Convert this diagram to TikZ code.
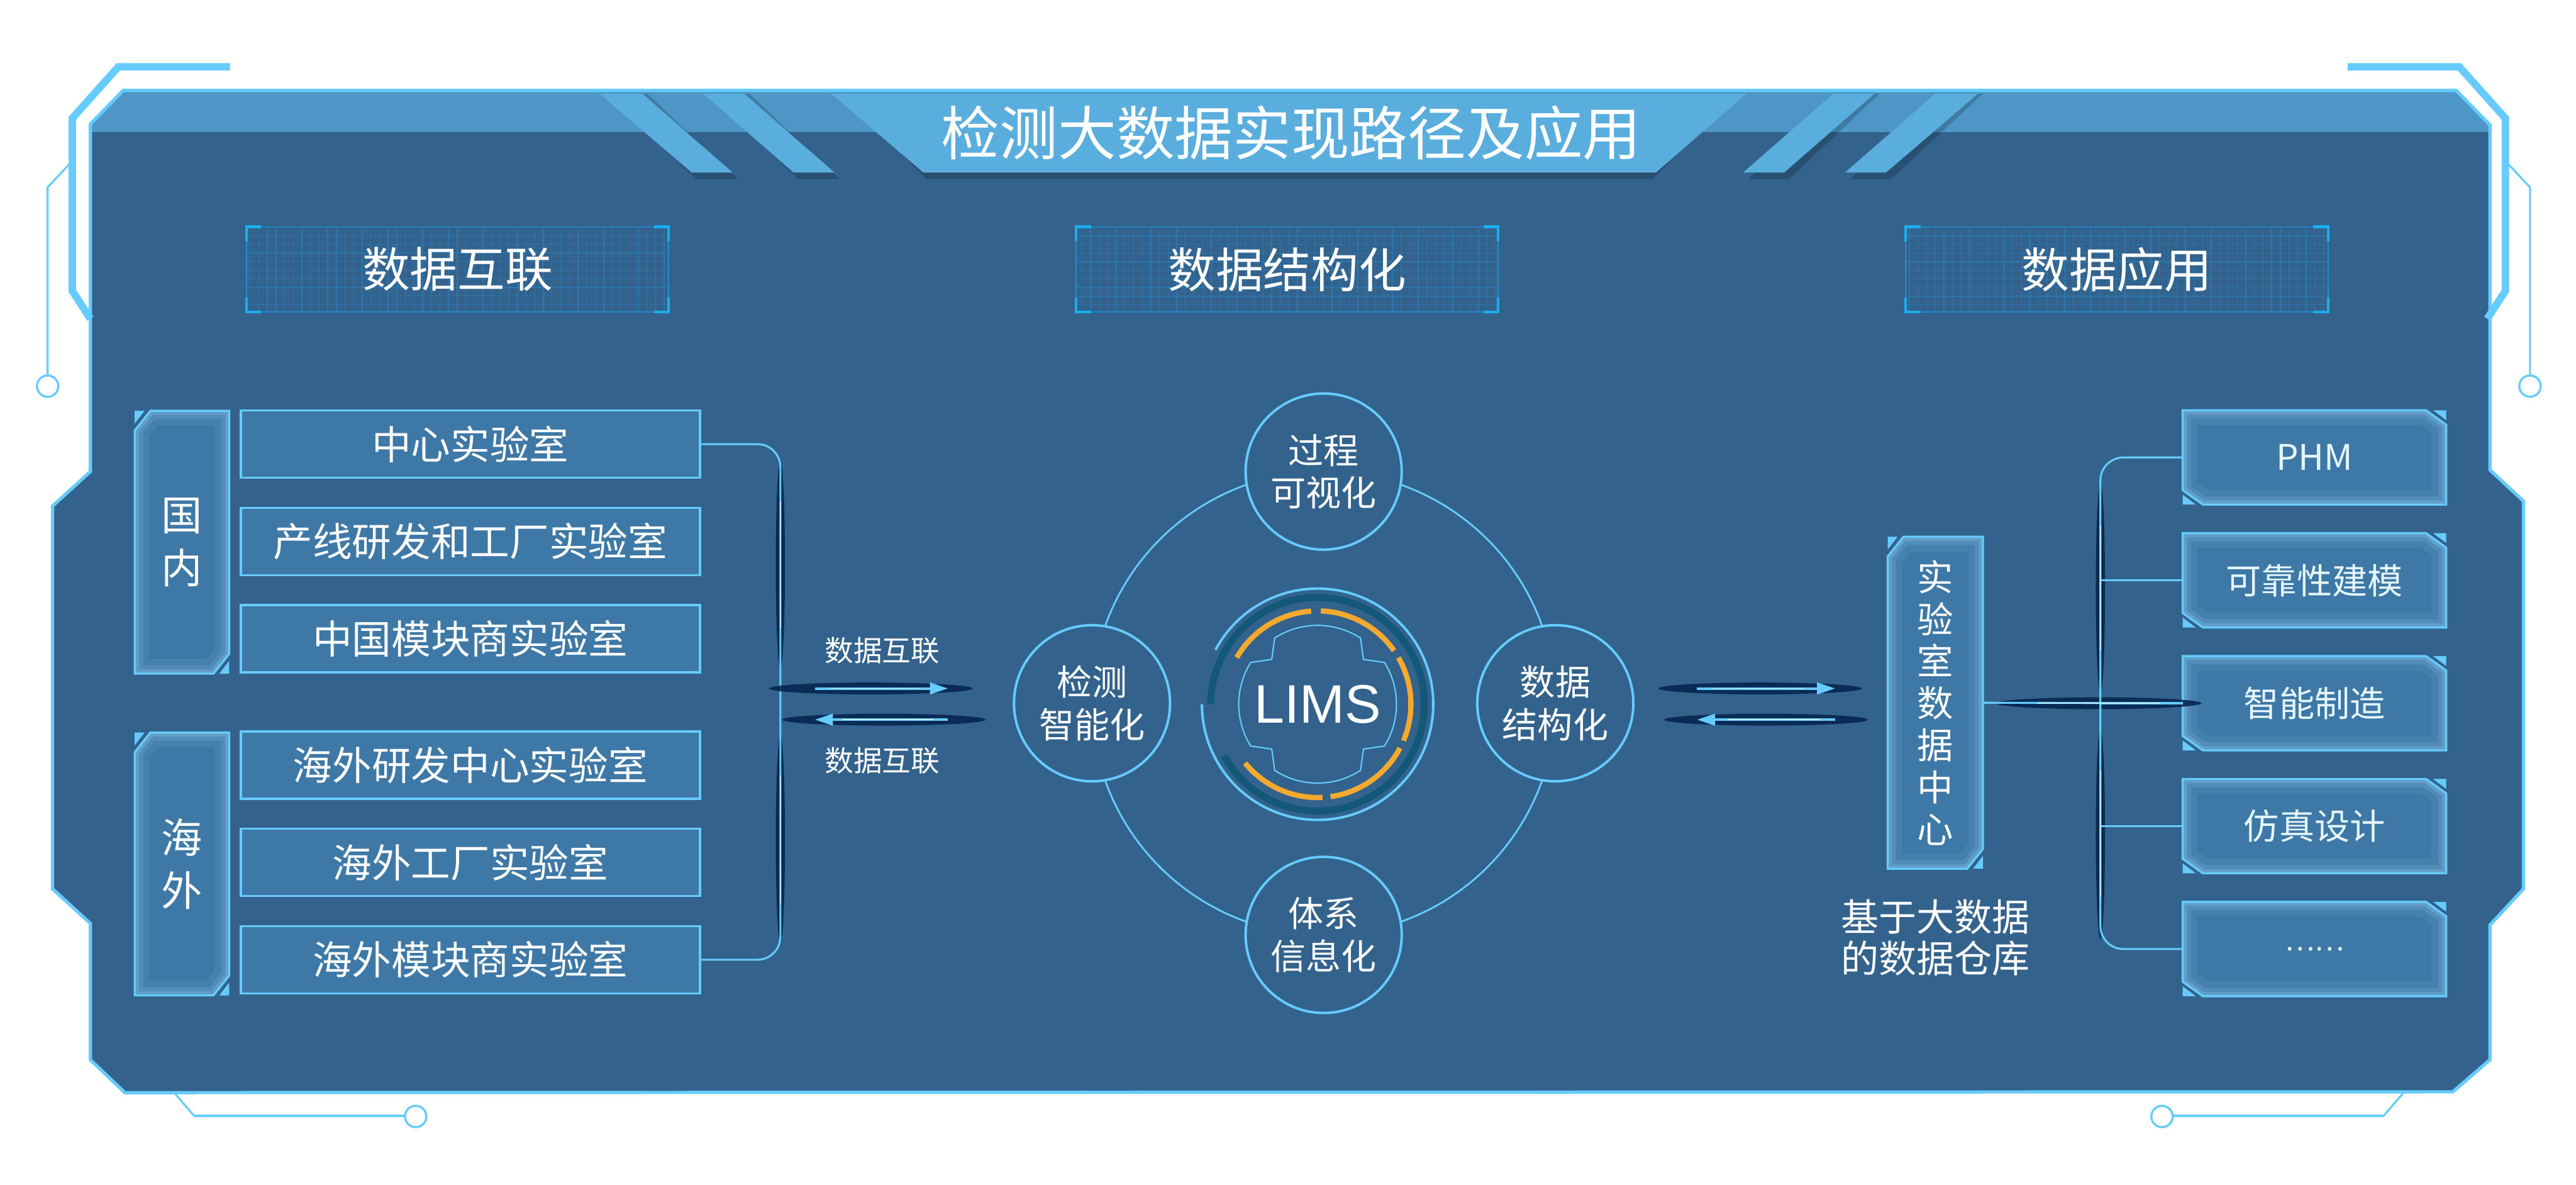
\documentclass[tikz,border=0pt]{standalone}
\usepackage{fontspec}
\newfontfamily\cjk{Noto Sans CJK SC}
\newfontfamily\limsfont{Liberation Sans}
\usepackage{tikz}
\usetikzlibrary{arrows.meta,positioning,calc}
\definecolor{panelBlue}{RGB}{51,98,141}
\definecolor{bandBlue}{RGB}{78,150,198}
\definecolor{ribbonBlue}{RGB}{90,174,222}
\definecolor{lineBlue}{RGB}{102,204,255}
\definecolor{boxBlue}{RGB}{61,120,167}
\definecolor{glowBlue}{RGB}{150,210,245}
\definecolor{navyDeep}{RGB}{6,38,78}
\definecolor{ringTeal}{RGB}{19,88,120}
\definecolor{limsOrange}{RGB}{245,170,46}
\definecolor{gridBlue}{RGB}{44,118,176}
\definecolor{hdrEdge}{RGB}{36,140,205}
\definecolor{hdrCorner}{RGB}{27,174,239}
\definecolor{paleText}{RGB}{230,246,255}
\pgfdeclarelayer{back}
\pgfsetlayers{back,main}
\tikzset{
  frameline/.style={draw=lineBlue,line width=4.5pt,line join=miter},
  framethin/.style={draw=lineBlue,line width=1.2pt},
  framebar/.style={draw=lineBlue,line width=1.6pt},
  knob/.style={draw=lineBlue,line width=1.3pt,fill=white},
  titletext/.style={text=white,font=\cjk\fontsize{35.5}{40}\selectfont},
  gridln/.style={draw=gridBlue,line width=0.5pt},
  hdrbox/.style={draw=hdrEdge,line width=0.7pt,fill=panelBlue,minimum width=257pt,minimum height=52pt,inner sep=0pt,outer sep=0pt,text=white,font=\cjk\fontsize{29}{34}\selectfont,
    path picture={\draw[gridln] (path picture bounding box.south west) grid[step=5.25pt] (path picture bounding box.north east);}},
  hdrcorner/.style={draw=hdrCorner,line width=1.6pt},
  sidetag/.style={minimum width=57.5pt,minimum height=160pt,inner sep=0pt,outer sep=0pt,align=center,text=white,font=\cjk\fontsize{25}{32}\selectfont},
  labbox/.style={draw=lineBlue,line width=1.3pt,fill=boxBlue,minimum width=279.4pt,minimum height=41pt,inner sep=0pt,outer sep=0pt,text=white,font=\cjk\fontsize{24}{28}\selectfont},
  appbox/.style={minimum width=160.4pt,minimum height=57.4pt,inner sep=0pt,outer sep=0pt,text=paleText,font=\cjk\fontsize{21.5}{26}\selectfont},
  edgeln/.style={draw=lineBlue,line width=1.3pt,line join=miter},
  stage/.style={circle,draw=lineBlue,line width=1.5pt,fill=panelBlue,minimum size=95pt,inner sep=0pt,align=center,text=white,font=\cjk\fontsize{21.5}{26}\selectfont},
  orbit/.style={draw=lineBlue,line width=1.1pt},
  limslbl/.style={text=white,font=\limsfont\fontsize{33}{38}\selectfont},
  link/.style={draw=lineBlue,line width=1.2pt},
  lens/.style={fill=navyDeep,opacity=0.9},
  lenscore/.style={draw=white,line width=0.7pt,opacity=0.55},
  flowarrow/.style={-{Triangle[length=11pt,width=7pt]},draw=lineBlue,line width=1.5pt},
  flowlbl/.style={text=white,font=\cjk\fontsize{17.5}{20}\selectfont},
  note/.style={align=center,text=white,font=\cjk\fontsize{23}{25.5}\selectfont}
}
% chamfered glow box, cut top-left and bottom-right
\newcommand\chamboxA[1]{%
  \def\pth{($(#1.north west)+(0,12)$) -- ($(#1.north west)+(9.6,0)$) -- (#1.north east) -- ($(#1.south east)+(0,-12)$) -- ($(#1.south east)+(-9.6,0)$) -- (#1.south west) -- cycle}%
  \begin{pgfonlayer}{back}
    \begin{scope}
      \clip \pth;
      \fill[boxBlue] \pth;
      \foreach \w/\o in {18/0.10,10/0.15,5/0.25}
        \draw[glowBlue,line width=\w pt,opacity=\o] \pth;
    \end{scope}
    \draw[edgeln] \pth;
    \fill[lineBlue] (#1.north west) -- ++(6,0) -- ++(-6,7.8) -- cycle;
    \fill[lineBlue] (#1.south east) -- ++(-6,0) -- ++(6,-7.8) -- cycle;
  \end{pgfonlayer}}
% chamfered glow box, cut top-right and bottom-left
\newcommand\chamboxB[1]{%
  \def\pth{(#1.north west) -- ($(#1.north east)+(-12.3,0)$) -- ($(#1.north east)+(0,8.8)$) -- (#1.south east) -- ($(#1.south west)+(12.3,0)$) -- ($(#1.south west)+(0,-8.8)$) -- cycle}%
  \begin{pgfonlayer}{back}
    \begin{scope}
      \clip \pth;
      \fill[boxBlue] \pth;
      \foreach \w/\o in {18/0.10,10/0.15,5/0.25}
        \draw[glowBlue,line width=\w pt,opacity=\o] \pth;
    \end{scope}
    \draw[edgeln] \pth;
    \fill[lineBlue] (#1.north east) -- ++(-8,0) -- ++(8,6) -- cycle;
    \fill[lineBlue] (#1.south west) -- ++(8,0) -- ++(-8,-6) -- cycle;
  \end{pgfonlayer}}
\newcommand\hdrcorners[1]{%
  \draw[hdrcorner] ($(#1.north west)+(0,9)$) -- (#1.north west) -- ++(9,0);
  \draw[hdrcorner] ($(#1.north east)+(0,9)$) -- (#1.north east) -- ++(-9,0);
  \draw[hdrcorner] ($(#1.south west)+(0,-9)$) -- (#1.south west) -- ++(9,0);
  \draw[hdrcorner] ($(#1.south east)+(0,-9)$) -- (#1.south east) -- ++(-9,0);}

\begin{document}
\begin{tikzpicture}[x=1pt,y=-1pt]
  \useasboundingbox (0,0) rectangle (1568,721);
  \def\framepath{(75,55) -- (1495,55) -- (1515.6,76) -- (1515.6,286) -- (1536,305) -- (1536,541) -- (1515.6,563) -- (1515.6,645) -- (1493,664.5) -- (76,665) -- (55,645) -- (55,562) -- (32,541) -- (32,308) -- (55,287) -- (55,75.5) -- cycle}
  \begin{pgfonlayer}{back}
    \fill[white] (0,0) rectangle (1568,721);
    \fill[panelBlue] \framepath;
    \begin{scope}
      \clip \framepath;
      \fill[bandBlue] (0,55) rectangle (1568,80.4);
    \end{scope}
    \draw[lineBlue,line width=2pt,line join=miter] \framepath;
  \end{pgfonlayer}

  % outer frame decoration
  \draw[frameline] (140,40.7) -- (72,40.7) -- (44,72) -- (44,177) -- (55,194);
  \draw[frameline] (1429,40.7) -- (1497,40.7) -- (1525,72) -- (1525,177) -- (1514,194);
  \draw[framethin] (44,98) -- (29,114) -- (29,228.5);
  \draw[framethin] (1525,98) -- (1540,114) -- (1540,228.5);
  \draw[knob] (29,235) circle[radius=6.5];
  \draw[knob] (1540,235) circle[radius=6.5];
  \draw[framethin] (106,665) -- (118,679);
  \draw[framebar] (118,679) -- (246.5,679);
  \draw[knob] (253,679.5) circle[radius=6.5];
  \draw[framethin] (1463,665) -- (1451,679);
  \draw[framebar] (1451,679) -- (1322.5,679);
  \draw[knob] (1316,679.5) circle[radius=6.5];

  % title ribbon
  \foreach \a/\b/\c/\d in {365/391/446/421,428/453/508/483,1116/1141/1086/1061,1178/1204/1148/1123}{
    \fill[black,opacity=0.18] (\a+3,57) -- (\b+3,57) -- (\c+3,109) -- (\d+3,109) -- cycle;
    \fill[ribbonBlue] (\a,57) -- (\b,57) -- (\c,105) -- (\d,105) -- cycle;}
  \fill[black,opacity=0.2] (512,57) -- (1057,57) -- (1006,109) -- (564,109) -- cycle;
  \fill[ribbonBlue] (506,57) -- (1063,57) -- (1008,105) -- (562,105) -- cycle;
  \node[titletext] (title) at (786,81) {检测大数据实现路径及应用};

  % section headers
  \node[hdrbox] (hdrA) at (278.5,164) {数据互联};
  \node[hdrbox,right=248pt of hdrA] (hdrB) {数据结构化};
  \node[hdrbox,right=248pt of hdrB] (hdrC) {数据应用};
  \foreach \n in {hdrA,hdrB,hdrC} {\hdrcorners{\n}}

  % left: laboratories
  \node[sidetag] (dom) at (110.75,330) {国\\内};
  \node[sidetag] (ovs) at (110.75,525.8) {海\\外};
  \chamboxA{dom}
  \chamboxA{ovs}
  \node[labbox] (lab1) at (286.3,270.3) {中心实验室};
  \node[labbox,below=18.2pt of lab1] (lab2) {产线研发和工厂实验室};
  \node[labbox,below=18.2pt of lab2] (lab3) {中国模块商实验室};
  \node[labbox,below=36pt of lab3] (lab4) {海外研发中心实验室};
  \node[labbox,below=18.2pt of lab4] (lab5) {海外工厂实验室};
  \node[labbox,below=18.2pt of lab5] (lab6) {海外模块商实验室};

  \coordinate (busL) at (475,428);
  \fill[lens] (475,343.5) ellipse[x radius=2.8,y radius=63];
  \fill[lens] (475,511) ellipse[x radius=2.8,y radius=63];
  \draw[link,rounded corners=14pt] (lab1.east) -| (busL) |- (lab6.east);
  \draw[lenscore] (475,305) -- (475,382);
  \draw[lenscore] (475,472) -- (475,550);

  % left arrows
  \fill[lens] (530,419) ellipse[x radius=62,y radius=3.6];
  \fill[lens] (538,438) ellipse[x radius=62,y radius=3.6];
  \coordinate (inA) at (496,419);
  \coordinate (inB) at (577,419);
  \coordinate (outA) at (577,438);
  \coordinate (outB) at (496,438);
  \draw[flowarrow] (inA) -- (inB);
  \draw[flowarrow] (outA) -- (outB);
  \draw[lenscore] (505,419) -- (560,419);
  \draw[lenscore] (513,438) -- (568,438);
  \node[flowlbl] (lblA) at (537,396) {数据互联};
  \node[flowlbl] (lblB) at (537,463) {数据互联};

  % centre: LIMS
  \coordinate (ringC) at (805.7,428);
  \draw[orbit] (ringC) circle[radius=141];
  \node[stage] (cTop) at ($(ringC)+(0,-141)$) {过程\\可视化};
  \node[stage] (cLeft) at ($(ringC)+(-141,0)$) {检测\\智能化};
  \node[stage] (cRight) at ($(ringC)+(141,0)$) {数据\\结构化};
  \node[stage] (cBot) at ($(ringC)+(0,141)$) {体系\\信息化};
  \node[limslbl] (lims) at (802,428.6) {LIMS};
  \begin{scope}[shift={(lims.center)},yscale=-1]
    \draw[lineBlue,line width=1.5pt] (-180:70.4) arc[start angle=-180,end angle=152,radius=70.4];
    \draw[ringTeal,line width=4.3pt] (-151:65) arc[start angle=-151,end angle=180,radius=65];
    \foreach \a/\b in {94/150,35/88,-23/30,-82/-28,-141/-87}
      \draw[limsOrange,line width=3.2pt] (\a:56.8) arc[start angle=\a,end angle=\b,radius=56.8];
    \draw[lineBlue,line width=0.8pt] (57:48) arc[start angle=57,end angle=123,radius=48] -- (-27.9,27.3)
      -- (148:48) arc[start angle=148,end angle=212,radius=48] -- (-27.9,-27.3)
      -- (237:48) arc[start angle=237,end angle=303,radius=48] -- (27.9,-27.3)
      -- (-32:48) arc[start angle=-32,end angle=32,radius=48] -- (27.9,27.3) -- cycle;
  \end{scope}

  % right arrows
  \fill[lens] (1071.5,419) ellipse[x radius=62,y radius=3.6];
  \fill[lens] (1075,438) ellipse[x radius=62,y radius=3.6];
  \coordinate (toA) at (1033,419);
  \coordinate (toB) at (1117,419);
  \coordinate (backA) at (1117,438);
  \coordinate (backB) at (1033,438);
  \draw[flowarrow] (toA) -- (toB);
  \draw[flowarrow] (backA) -- (backB);
  \draw[lenscore] (1042,419) -- (1098,419);
  \draw[lenscore] (1052,438) -- (1108,438);

  % right: data centre and applications
  \node[sidetag,minimum width=58pt,minimum height=202pt,font=\cjk\fontsize{22}{25.6}\selectfont] (dc) at (1178,427.7) {实\\验\\室\\数\\据\\中\\心};
  \chamboxA{dc}
  \node[note] (dwh) at (1178,570.7) {基于大数据\\的数据仓库};
  \node[appbox] (app1) at (1408.8,278.4) {PHM};
  \node[appbox,below=17.4pt of app1] (app2) {可靠性建模};
  \node[appbox,below=17.4pt of app2] (app3) {智能制造};
  \node[appbox,below=17.4pt of app3] (app4) {仿真设计};
  \node[appbox,below=17.4pt of app4,font=\cjk\fontsize{17}{20}\selectfont] (app5) {……};
  \foreach \i in {1,...,5} {\chamboxB{app\i}}

  \coordinate (busR) at (1278.5,427.7);
  \fill[lens] (1278.5,358) ellipse[x radius=2.8,y radius=64];
  \fill[lens] (1278.5,507.5) ellipse[x radius=2.8,y radius=64];
  \fill[lens] (1277.5,428) ellipse[x radius=62.5,y radius=3.6];
  \draw[link,rounded corners=14pt] (app1.west) -| (busR) |- (app5.west);
  \foreach \i in {2,3,4}
    \draw[link] (app\i.west) -- (app\i.west -| busR);
  \draw[link] (dc.east) -- (app3.west);
  \draw[lenscore] (1278.5,320) -- (1278.5,396);
  \draw[lenscore] (1278.5,469) -- (1278.5,546);
  \draw[lenscore] (1240,428) -- (1315,428);
\end{tikzpicture}
\end{document}
